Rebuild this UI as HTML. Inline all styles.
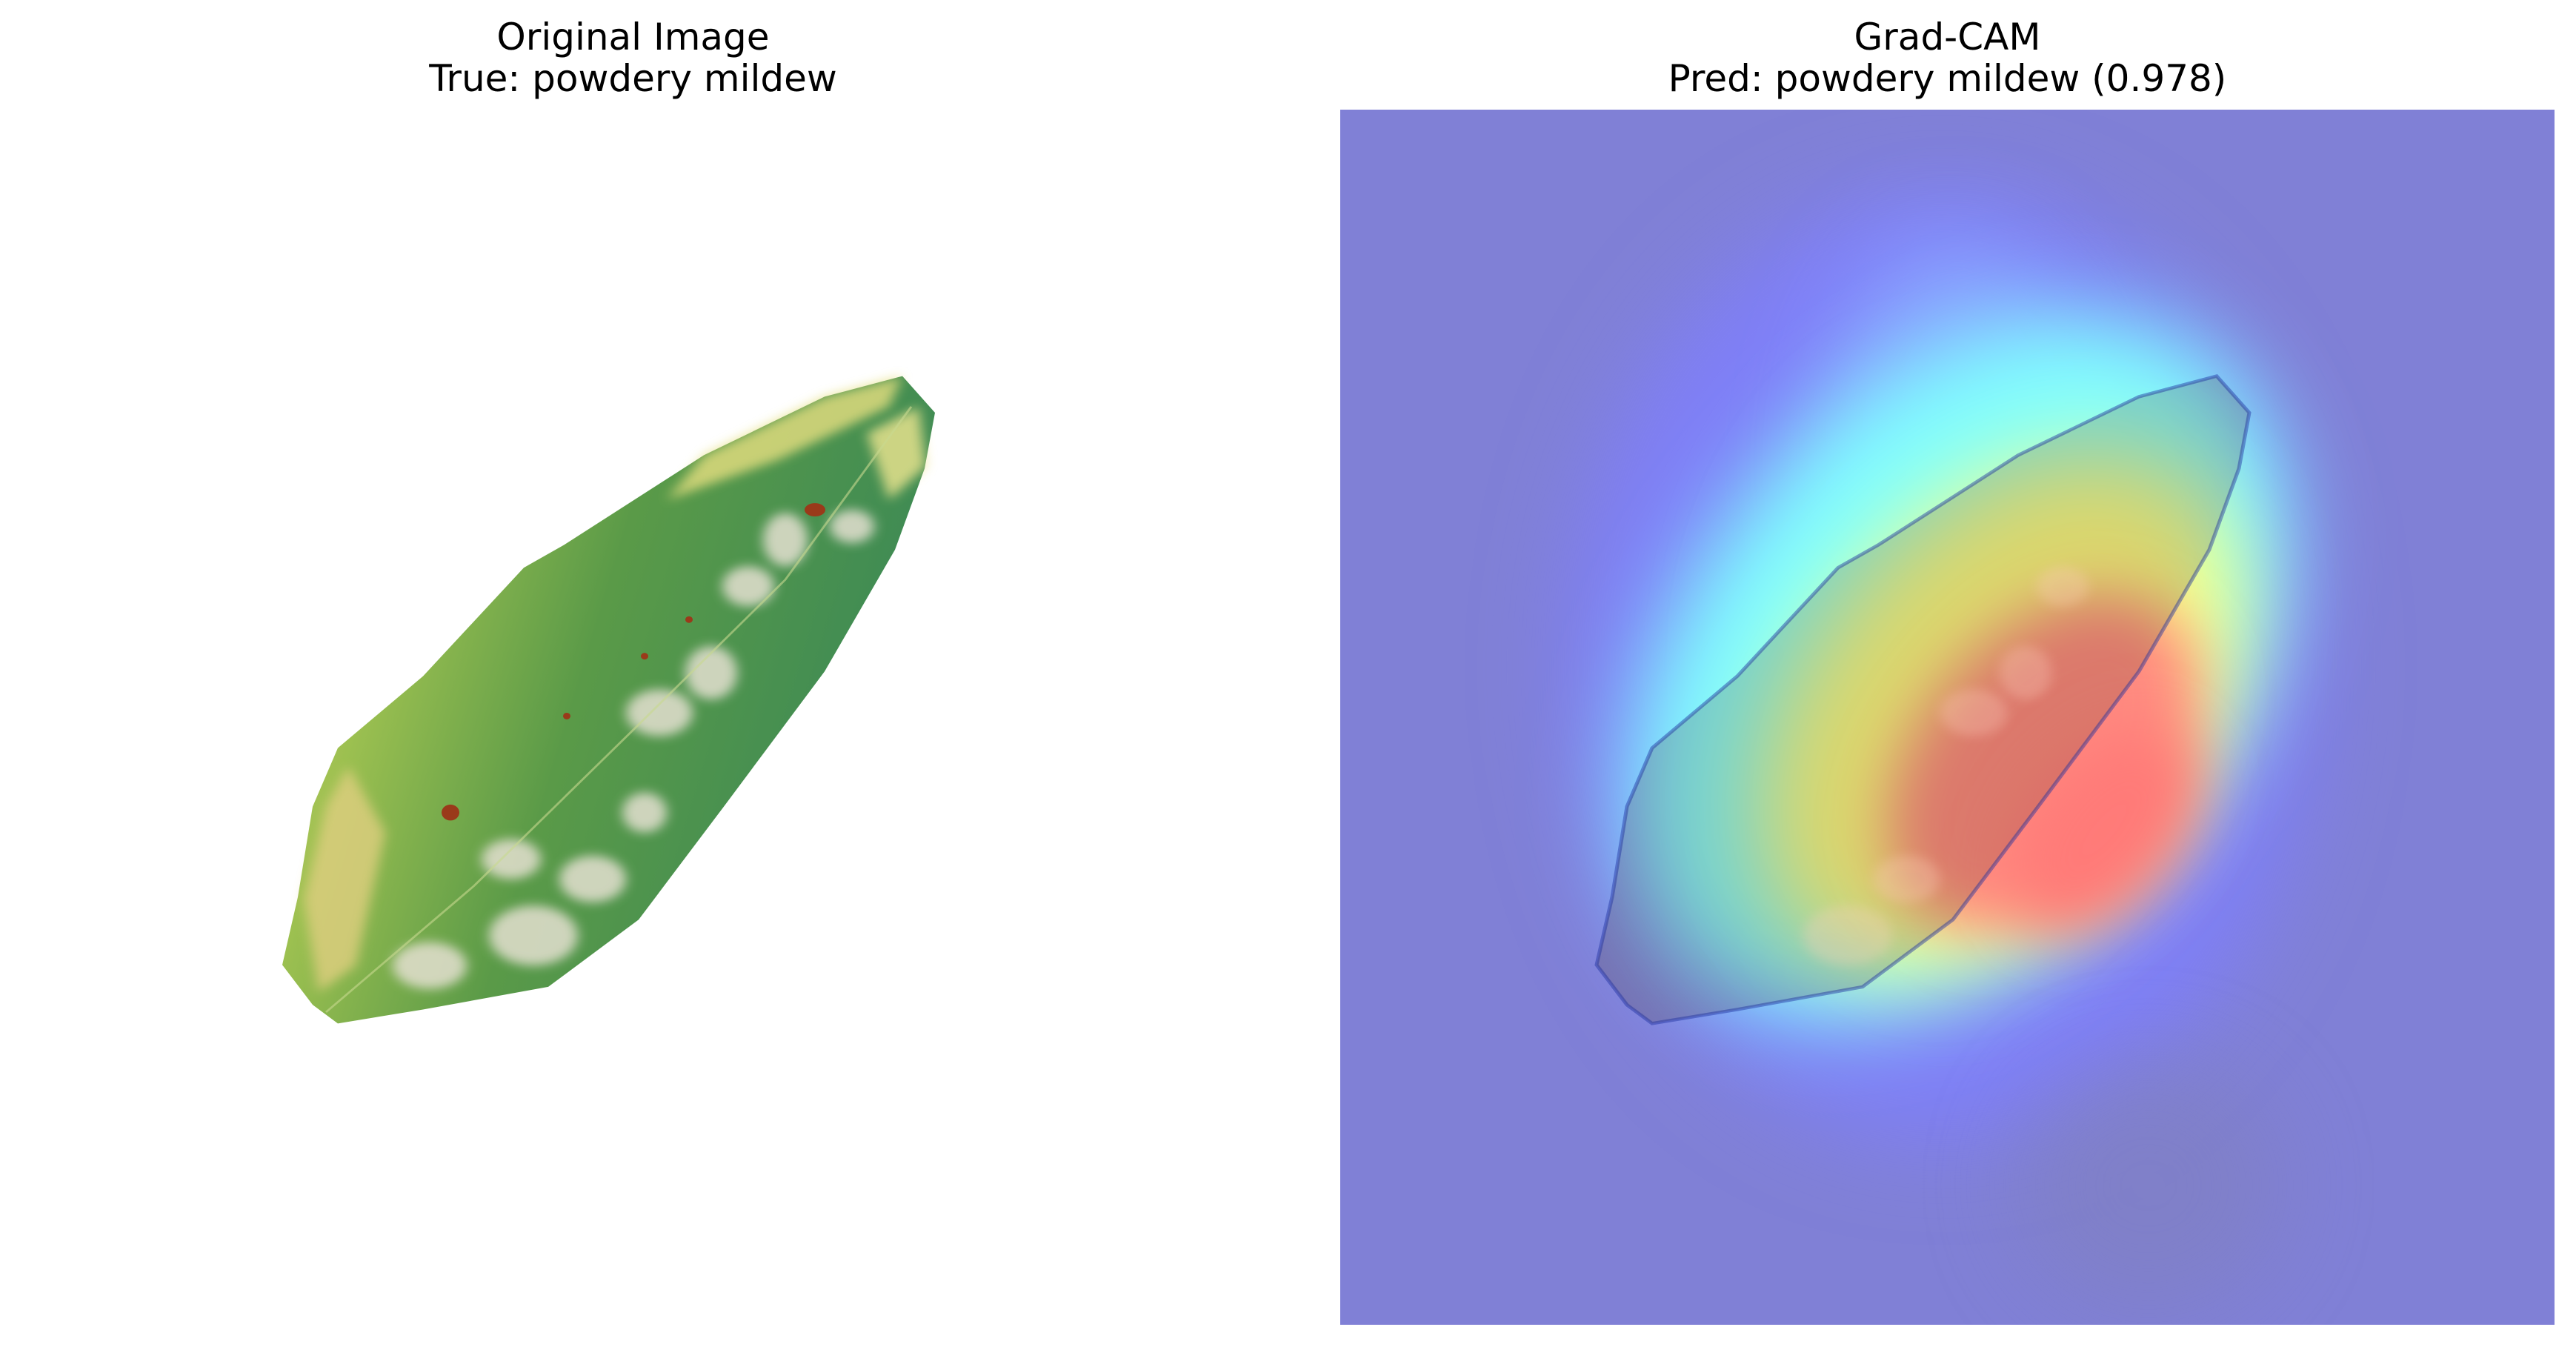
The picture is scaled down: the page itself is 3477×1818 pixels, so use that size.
<!DOCTYPE html>
<html><head><meta charset="utf-8">
<style>
html,body{margin:0;padding:0;background:#fff;}
body{width:3477px;height:1818px;position:relative;overflow:hidden;font-family:"DejaVu Sans","Liberation Sans",sans-serif;}
.t{position:absolute;text-align:center;font-size:50px;line-height:56px;color:#000;width:1639px;top:22px;}
</style></head>
<body>
<div class="t" style="left:35px">Original Image<br>True: powdery mildew</div>
<div class="t" style="left:1809px">Grad-CAM<br>Pred: powdery mildew (0.978)</div>

<svg width="3477" height="1818" style="position:absolute;left:0;top:0">
<defs>
  <linearGradient id="leafg" x1="0" y1="0" x2="1" y2="0.3">
    <stop offset="0" stop-color="#d8d070"/>
    <stop offset="0.25" stop-color="#9cc050"/>
    <stop offset="0.55" stop-color="#5a9a48"/>
    <stop offset="1" stop-color="#3d8a55"/>
  </linearGradient>
  <filter id="b8" x="-20%" y="-20%" width="140%" height="140%"><feGaussianBlur stdDeviation="8"/></filter>
  <filter id="b60" x="-50%" y="-50%" width="200%" height="200%"><feGaussianBlur stdDeviation="60"/></filter>
  <filter id="b40" x="-50%" y="-50%" width="200%" height="200%"><feGaussianBlur stdDeviation="40"/></filter>
  <clipPath id="hclip"><rect x="1809" y="148" width="1639" height="1640"/></clipPath>
</defs>

<!-- Left: original leaf -->
<g transform="matrix(1 0 0 0.898 0 46)">
  <polygon points="1218,514 1262,569 1248,653 1208,775 1113,958 977,1161 862,1331 740,1432 571,1466 456,1487 422,1459 381,1399 402,1297 422,1161 456,1073 571,965 707,802 761,768 950,633 1113,545" fill="url(#leafg)"/>
  <path d="M1218,514 L1113,545 L950,633 L900,700 L1050,640 L1200,560 Z" fill="#e6df80" opacity="0.8" filter="url(#b8)"/>
  <path d="M1240,560 L1250,650 L1200,700 L1170,600 Z" fill="#efe690" opacity="0.8" filter="url(#b8)"/>
  <path d="M410,1300 L440,1160 L470,1100 L520,1200 L480,1400 L430,1440 Z" fill="#e0cf80" opacity="0.8" filter="url(#b8)"/>
  <g fill="#e4e0d0" opacity="0.85" filter="url(#b8)">
    <ellipse cx="720" cy="1355" rx="60" ry="45"/>
    <ellipse cx="800" cy="1270" rx="45" ry="35"/>
    <ellipse cx="690" cy="1240" rx="40" ry="30"/>
    <ellipse cx="890" cy="1020" rx="45" ry="35"/>
    <ellipse cx="960" cy="960" rx="35" ry="40"/>
    <ellipse cx="1010" cy="830" rx="35" ry="30"/>
    <ellipse cx="1060" cy="760" rx="30" ry="40"/>
    <ellipse cx="580" cy="1400" rx="50" ry="35"/>
    <ellipse cx="870" cy="1170" rx="30" ry="30"/>
    <ellipse cx="1150" cy="740" rx="30" ry="25"/>
  </g>
  <g fill="#9a3a1a">
    <ellipse cx="1100" cy="715" rx="14" ry="10"/>
    <ellipse cx="608" cy="1170" rx="12" ry="12"/>
    <circle cx="870" cy="935" r="5"/><circle cx="765" cy="1025" r="5"/><circle cx="930" cy="880" r="5"/>
  </g>
  <polyline points="440,1470 640,1280 860,1040 1060,820 1230,560" fill="none" stroke="#c8d890" stroke-width="3" opacity="0.6"/>
</g>

<!-- Right: Grad-CAM -->
<g clip-path="url(#hclip)">
  <rect x="1809" y="148" width="1639" height="1640" fill="#8080d6"/>
  <ellipse cx="2620" cy="900" rx="500" ry="640" fill="#7f7ff8" filter="url(#b60)"/>
  <ellipse cx="2640" cy="620" rx="180" ry="300" fill="#88a0ff" filter="url(#b60)"/>
  <ellipse cx="2640" cy="900" rx="540" ry="360" transform="rotate(-50 2640 900)" fill="#80ffff" filter="url(#b60)"/>
  <ellipse cx="2700" cy="960" rx="400" ry="260" transform="rotate(-50 2700 960)" fill="#ffff80" filter="url(#b60)"/>
  <ellipse cx="2760" cy="1030" rx="260" ry="170" transform="rotate(-50 2760 1030)" fill="#ff8a80" filter="url(#b40)"/>
  <ellipse cx="2840" cy="1120" rx="160" ry="100" transform="rotate(-50 2840 1120)" fill="#ff7a78" filter="url(#b40)"/>
  <ellipse cx="2900" cy="1600" rx="180" ry="170" fill="#8080c0" opacity="0.6" filter="url(#b60)"/>
  <!-- leaf overlay -->
  <g transform="translate(1774,46) scale(1,0.898)">
    <polygon points="1218,514 1262,569 1248,653 1208,775 1113,958 977,1161 862,1331 740,1432 571,1466 456,1487 422,1459 381,1399 402,1297 422,1161 456,1073 571,965 707,802 761,768 950,633 1113,545" fill="#503820" opacity="0.2"/>
    <polygon points="1218,514 1262,569 1248,653 1208,775 1113,958 977,1161 862,1331 740,1432 571,1466 456,1487 422,1459 381,1399 402,1297 422,1161 456,1073 571,965 707,802 761,768 950,633 1113,545" fill="none" stroke="#2030a0" stroke-width="5" opacity="0.45"/>
    <g fill="#ffd0c0" opacity="0.3" filter="url(#b8)">
      <ellipse cx="720" cy="1355" rx="60" ry="45"/>
      <ellipse cx="800" cy="1270" rx="45" ry="35"/>
      <ellipse cx="890" cy="1020" rx="45" ry="35"/>
      <ellipse cx="960" cy="960" rx="35" ry="40"/>
      <ellipse cx="1010" cy="830" rx="35" ry="30"/>
    </g>
  </g>
</g>
</svg>
</body></html>
